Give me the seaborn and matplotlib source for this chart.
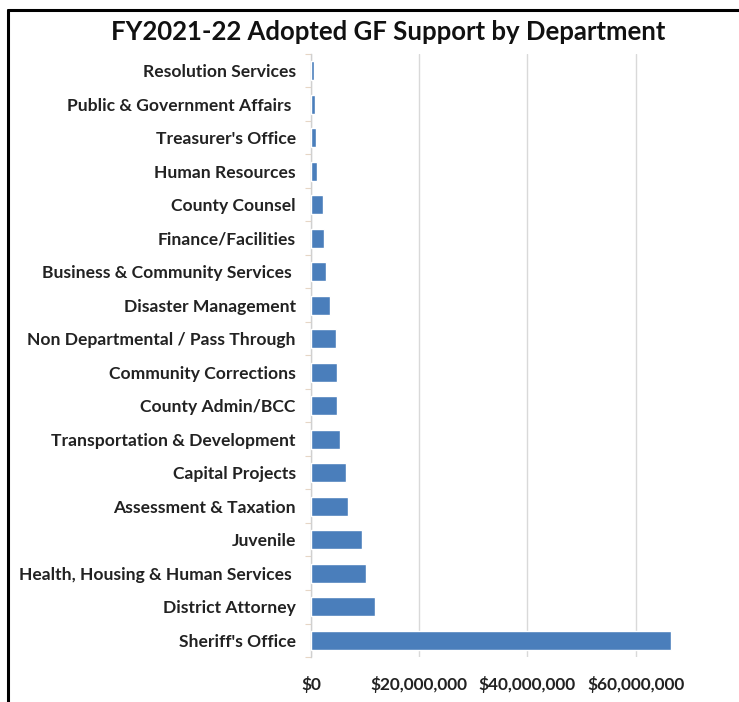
import matplotlib
matplotlib.use("Agg")
import matplotlib.pyplot as plt
import matplotlib.ticker as mticker
from matplotlib.lines import Line2D
import numpy as np
import pandas as pd
import seaborn as sns

departments = [
    "Resolution Services",
    "Public & Government Affairs ",
    "Treasurer's Office",
    "Human Resources",
    "County Counsel",
    "Finance/Facilities",
    "Business & Community Services ",
    "Disaster Management",
    "Non Departmental / Pass Through",
    "Community Corrections",
    "County Admin/BCC",
    "Transportation & Development",
    "Capital Projects",
    "Assessment & Taxation",
    "Juvenile",
    "Health, Housing & Human Services ",
    "District Attorney",
    "Sheriff's Office",
]
gf_support = [
    0.6e6, 0.8e6, 1.0e6, 1.2e6, 2.2e6, 2.5e6, 2.8e6, 3.5e6, 4.7e6,
    4.9e6, 4.8e6, 5.3e6, 6.5e6, 6.8e6, 9.5e6, 10.2e6, 11.9e6, 66.5e6,
]
x_ticks = [0, 20e6, 40e6, 60e6]
title = "FY2021-22 Adopted GF Support by Department"

df = pd.DataFrame({"department": departments, "support": gf_support})

sns.set_theme(style="white")
plt.rcParams["font.family"] = ["Lato", "DejaVu Sans"]

fig = plt.figure(figsize=(7.39, 7.02), dpi=100)
ax = fig.add_axes([0.4208, 0.0641, 0.5857, 0.859])

sns.barplot(data=df, x="support", y="department", order=departments,
            color="#4a7ebb", saturation=1, width=0.57, ax=ax, zorder=3)

ax.set_xlim(0, 80e6)
ax.set_xticks(x_ticks)
ax.xaxis.set_major_formatter(mticker.FuncFormatter(lambda v, p: f"${v:,.0f}"))
ax.grid(axis="x", color="#d9d9d9", linewidth=1, zorder=0)
ax.set_xlabel("")
ax.set_ylabel("")

for side in ("top", "right", "bottom"):
    ax.spines[side].set_visible(False)
ax.spines["left"].set_color("#d0d0d0")
ax.spines["left"].set_linewidth(1)

ax.tick_params(axis="x", length=0, pad=14, labelsize=12.4, labelcolor="#222222")
ax.tick_params(axis="y", which="major", length=0, pad=11, labelsize=12.6, labelcolor="#222222")
for lbl in ax.get_xticklabels() + ax.get_yticklabels():
    lbl.set_fontweight("bold")

ax.set_yticks(np.arange(-0.5, len(departments), 1), minor=True)
ax.tick_params(axis="y", which="minor", length=4, width=0.8, color="#e6d6c6", left=True)

fig.text(0.525, 0.955, title, ha="center", va="center", fontsize=18.5,
         fontweight="bold", color="#111111")

# Outer frame on the top and left edges
fig.add_artist(Line2D([0.011, 1.0], [0.986, 0.986], transform=fig.transFigure,
                      color="black", linewidth=2.2))
fig.add_artist(Line2D([0.011, 0.011], [0.0, 0.986], transform=fig.transFigure,
                      color="black", linewidth=2.2))

fig.savefig("out.png", dpi=100)
